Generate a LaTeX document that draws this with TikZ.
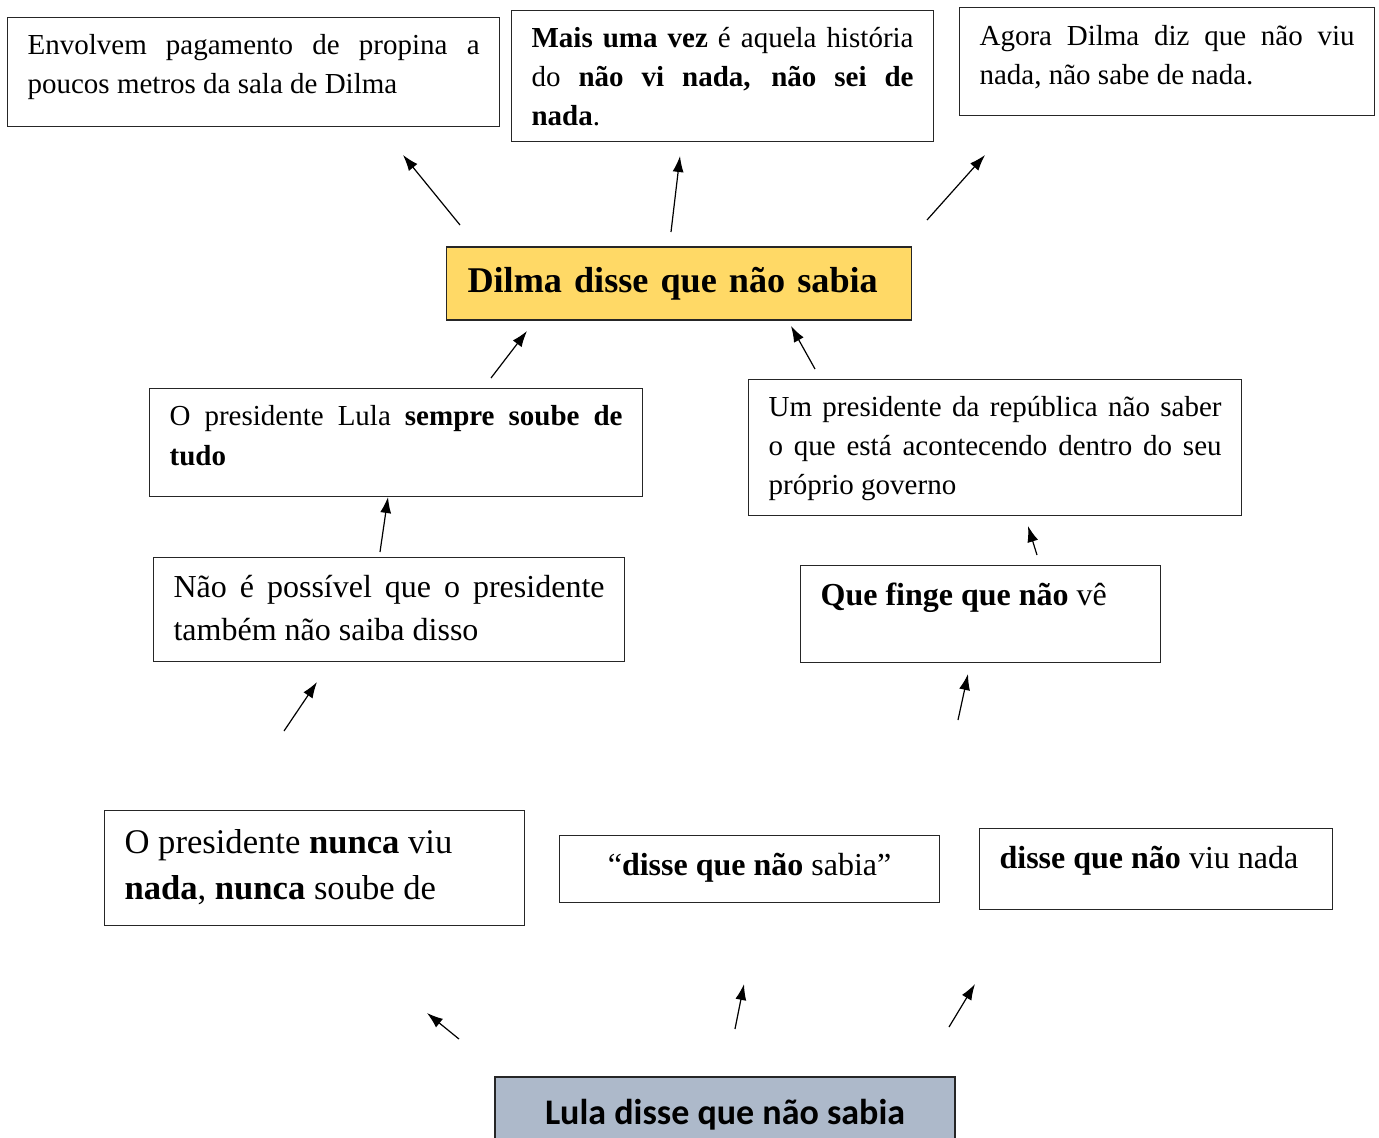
\documentclass[tikz,border=0pt]{standalone}
\usepackage{fontspec}
\setmainfont{Liberation Serif}
\newfontfamily\calibri{Carlito}
\usetikzlibrary{arrows.meta}
\definecolor{amarelo}{HTML}{FFD966}
\definecolor{azulcinza}{HTML}{ADB9CA}
\newcommand{\caixatexto}[3]{\parbox[t][#2pt][t]{#1pt}{\hyphenpenalty=10000\strut #3}}
\begin{document}
\begin{tikzpicture}[x=1pt, y=-1pt,
	caixa/.style={draw=black!85, line width=1.2pt, anchor=north west, inner xsep=20pt, font=\fontsize{29}{39}\selectfont},
	titulo/.style={draw=black!85, line width=1.2pt, inner ysep=0pt},
	seta/.style={-{Latex[length=16pt,width=11pt]}, line width=1.2pt}]
	\useasboundingbox (0,0) rectangle (1379,1138);
		%Caixas de cima
	\node[caixa, inner ysep=10pt] (envolvem) at (7,17) {\caixatexto{452}{89}{Envolvem pagamento de propina a\linebreak poucos metros da sala de Dilma}};
	\node[caixa, inner ysep=10pt] (maisuma) at (511,10) {\caixatexto{382}{111}{\textbf{Mais uma vez} é aquela história\linebreak do \textbf{não vi nada, não sei de}\linebreak \textbf{nada}.}};
	\node[caixa, inner ysep=11pt] (agora) at (959,7) {\caixatexto{375}{86}{Agora Dilma diz que não viu\linebreak nada, não sabe de nada.}};
		%Dilma
	\node[titulo, fill=amarelo, minimum height=73pt, text width=423pt, inner xsep=21pt, align=left, font=\bfseries\fontsize{36.2}{44}\selectfont] (dilma) at (679,283.5) {Dilma disse que não sabia};
		%Caixas do meio
	\node[caixa, inner ysep=9pt, font=\fontsize{29}{40}\selectfont] (sempre) at (149,388) {\caixatexto{453}{90}{O presidente Lula \textbf{sempre soube de}\linebreak \textbf{tudo}}};
	\node[caixa, inner ysep=10pt] (republica) at (748,379) {\caixatexto{453}{116}{Um presidente da república não saber\linebreak o que está acontecendo dentro do seu\linebreak próprio governo}};
	\node[caixa, inner ysep=10pt, font=\fontsize{32}{43}\selectfont] (possivel) at (153,557) {\caixatexto{431}{84}{Não é possível que o presidente\linebreak também não saiba disso}};
	\node[caixa, inner ysep=10pt, font=\fontsize{32}{43}\selectfont] (finge) at (800,565) {\caixatexto{320}{77}{\textbf{Que finge que não} vê}};
		%Caixas de baixo
	\node[caixa, inner ysep=11pt, font=\fontsize{34.6}{46}\selectfont] (nunca) at (104,810) {\caixatexto{380}{93}{\raggedright O presidente \textbf{nunca} viu\\ \textbf{nada}, \textbf{nunca} soube de}};
	\node[caixa, inner ysep=10pt, font=\fontsize{32}{43}\selectfont, inner xsep=0pt] (aspas) at (559,835) {\caixatexto{380}{47}{\centering “\textbf{disse que não} sabia”}};
	\node[caixa, inner ysep=10pt, font=\fontsize{32}{43}\selectfont] (viunada) at (979,828) {\caixatexto{313}{61}{\textbf{disse que não} viu nada}};
		%Lula
	\node[titulo, fill=azulcinza, minimum width=460pt, minimum height=76pt, font=\calibri\bfseries\fontsize{36}{43}\selectfont] (lula) at (725,1115) {Lula disse que não sabia};
		%Setas
	\coordinate (s1) at (460,225); \coordinate (e1) at (403,155);
	\coordinate (s2) at (671,232); \coordinate (e2) at (680,156);
	\coordinate (s3) at (927,220); \coordinate (e3) at (985,155);
	\coordinate (s4) at (491,378); \coordinate (e4) at (527,331);
	\coordinate (s5) at (815,369); \coordinate (e5) at (791,326);
	\coordinate (s6) at (380,552); \coordinate (e6) at (388,497);
	\coordinate (s7) at (1037,555); \coordinate (e7) at (1028,526);
	\coordinate (s8) at (284,731); \coordinate (e8) at (317,682);
	\coordinate (s9) at (958,720); \coordinate (e9) at (968,674);
	\coordinate (s10) at (459,1039); \coordinate (e10) at (427,1013);
	\coordinate (s11) at (735,1029); \coordinate (e11) at (744,984);
	\coordinate (s12) at (949,1027); \coordinate (e12) at (975,984);
	\draw[seta] (s1) -- (e1);
	\draw[seta] (s2) -- (e2);
	\draw[seta] (s3) -- (e3);
	\draw[seta] (s4) -- (e4);
	\draw[seta] (s5) -- (e5);
	\draw[seta] (s6) -- (e6);
	\draw[seta] (s7) -- (e7);
	\draw[seta] (s8) -- (e8);
	\draw[seta] (s9) -- (e9);
	\draw[seta] (s10) -- (e10);
	\draw[seta] (s11) -- (e11);
	\draw[seta] (s12) -- (e12);
\end{tikzpicture}
\end{document}
